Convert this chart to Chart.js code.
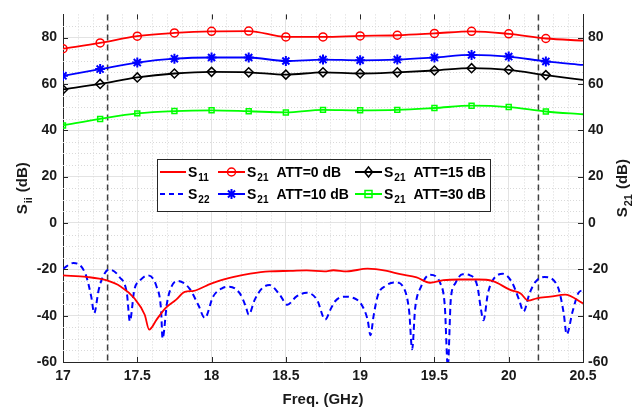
<!DOCTYPE html>
<html>
<head>
<meta charset="utf-8">
<script src="https://cdn.jsdelivr.net/npm/chart.js"></script>
<style>
  body { margin: 0; background: #fff; }
  #wrap { width: 644px; height: 409px; }
</style>
</head>
<body>
<div id="wrap"><canvas id="chartS" width="644" height="409"></canvas></div>
<script>
// S21 for different attenuator settings, read at every 0.25 GHz (last point has no marker)
const markerFreq = [17, 17.25, 17.5, 17.75, 18, 18.25, 18.5, 18.75, 19, 19.25, 19.5, 19.75, 20, 20.25, 20.5];
const att0Db  = [75.2, 77.7, 80.6, 82.0, 82.7, 82.8, 80.3, 80.3, 80.7, 81.0, 81.8, 82.7, 81.6, 79.6, 78.7];
const att10Db = [63.5, 66.4, 69.2, 70.9, 71.4, 71.4, 69.9, 70.5, 70.2, 70.5, 71.4, 72.5, 71.8, 69.7, 68.2];
const att15Db = [57.6, 60.0, 62.8, 64.5, 65.2, 65.0, 64.0, 65.0, 64.5, 65.0, 65.8, 66.8, 66.1, 63.8, 61.7];
const att30Db = [42.1, 44.9, 47.3, 48.3, 48.6, 48.2, 47.7, 48.8, 48.6, 48.8, 49.6, 50.6, 50.0, 48.1, 46.9];

// S11
const s11Freq = [17.00, 17.16, 17.29, 17.39, 17.48, 17.55, 17.58, 17.63, 17.69, 17.76, 17.82, 17.88, 17.97, 18.03,
  18.15, 18.26, 18.39, 18.53, 18.64, 18.76, 18.82, 18.91, 19.05, 19.18, 19.27, 19.38, 19.47, 19.56, 19.67, 19.79,
  19.89, 20.01, 20.08, 20.13, 20.19, 20.28, 20.38, 20.50];
const s11Db = [-22.6, -23.3, -24.7, -27.5, -32.5, -39.6, -46.0, -41.7, -36.7, -33.2, -29.7, -29.3, -26.9, -25.4,
  -23.3, -21.9, -20.9, -20.7, -20.5, -20.9, -20.4, -20.9, -19.7, -20.7, -22.1, -23.5, -25.8, -24.7, -24.4, -24.4,
  -25.0, -28.9, -30.4, -33.5, -32.5, -31.8, -30.9, -34.7];

// S22
const s22Freq = [17.00, 17.07, 17.15, 17.19, 17.21, 17.24, 17.27, 17.31, 17.38, 17.43, 17.45, 17.48, 17.52, 17.57,
  17.63, 17.66, 17.67, 17.70, 17.73, 17.77, 17.85, 17.91, 17.955, 18.01, 18.07, 18.12, 18.19, 18.23, 18.25, 18.29,
  18.34, 18.39, 18.46, 18.51, 18.57, 18.64, 18.71, 18.765, 18.80, 18.83, 18.89, 18.96, 19.01, 19.05, 19.07, 19.09,
  19.12, 19.17, 19.24, 19.30, 19.33, 19.35, 19.37, 19.41, 19.47, 19.54, 19.57, 19.59, 19.61, 19.64, 19.69, 19.74,
  19.79, 19.81, 19.83, 19.86, 19.89, 19.96, 20.02, 20.07, 20.10, 20.14, 20.18, 20.24, 20.33, 20.37, 20.39, 20.43,
  20.47, 20.50];
const s22Db = [-19.7, -17.3, -21.8, -31.8, -38.9, -28.9, -23.0, -20.1, -23.3, -30.4, -42.4, -28.9, -24.7, -22.6,
  -27.5, -37.4, -49.9, -34.6, -27.5, -25.0, -28.2, -35.3, -41.0, -31.8, -28.2, -27.5, -30.4, -36.0, -39.6, -33.2,
  -28.2, -26.8, -31.1, -35.3, -31.8, -30.1, -33.2, -41.7, -37.4, -33.9, -31.8, -32.5, -35.3, -41.7, -48.5, -40.3,
  -31.1, -27.2, -25.7, -28.9, -38.2, -54.5, -37.0, -27.5, -22.3, -26.1, -36.0, -62.0, -33.2, -26.1, -22.1, -22.6,
  -27.5, -36.0, -42.0, -30.4, -25.0, -21.9, -25.4, -33.2, -38.2, -30.4, -25.4, -23.3, -27.5, -38.9, -48.1, -38.2,
  -30.1, -29.0];

// band edges (dashed verticals)
const bandEdges = [17.3, 20.2];

const xTicks = [17, 17.5, 18, 18.5, 19, 19.5, 20, 20.5];
const yTicks = [-60, -40, -20, 0, 20, 40, 60, 80];

const fontFamily = '"Liberation Sans", Arial, Helvetica, sans-serif';
const textColor = '#1a1a1a';

const toXY = (xs, ys) => xs.map((x, i) => ({ x: x, y: ys[i] }));
const markerSizes = (r) => markerFreq.map((f, i) => i < markerFreq.length - 1 ? r : 0);

// S + subscript + rest, returns width
function drawSub(ctx, x, y, sub, rest, size, gap, measureOnly) {
  ctx.font = `bold ${size}px ${fontFamily}`;
  let w = ctx.measureText('S').width;
  if (!measureOnly) ctx.fillText('S', x, y);
  const subSize = Math.round(size * 0.72);
  ctx.font = `bold ${subSize}px ${fontFamily}`;
  if (!measureOnly) ctx.fillText(sub, x + w + 1, y + size * 0.32);
  w += 1 + ctx.measureText(sub).width;
  if (rest) {
    ctx.font = `bold ${size}px ${fontFamily}`;
    if (!measureOnly) ctx.fillText(rest, x + w + gap, y);
    w += gap + ctx.measureText(rest).width;
  }
  return w;
}

function drawMarker(ctx, type, x, y, color) {
  ctx.save();
  ctx.strokeStyle = color;
  ctx.fillStyle = color;
  ctx.lineWidth = 1.5;
  ctx.setLineDash([]);
  ctx.beginPath();
  if (type === 'circle') {
    ctx.arc(x, y, 4, 0, Math.PI * 2);
    ctx.stroke();
  } else if (type === 'diamond') {
    ctx.moveTo(x, y - 5); ctx.lineTo(x + 4, y); ctx.lineTo(x, y + 5); ctx.lineTo(x - 4, y); ctx.closePath();
    ctx.stroke();
  } else if (type === 'square') {
    ctx.rect(x - 3.5, y - 3.5, 7, 7);
    ctx.stroke();
  } else if (type === 'star') {
    ctx.lineWidth = 2;
    for (let k = 0; k < 4; k++) {
      const a = k * Math.PI / 4;
      ctx.moveTo(x - 5 * Math.cos(a), y - 5 * Math.sin(a));
      ctx.lineTo(x + 5 * Math.cos(a), y + 5 * Math.sin(a));
    }
    ctx.stroke();
  }
  ctx.restore();
}

const legendItems = [
  { col: 0, row: 0, color: '#ff0000', dash: [], marker: null, sub: '11', rest: '' },
  { col: 1, row: 0, color: '#ff0000', dash: [], marker: 'circle', sub: '21', rest: 'ATT=0 dB' },
  { col: 2, row: 0, color: '#000000', dash: [], marker: 'diamond', sub: '21', rest: 'ATT=15 dB' },
  { col: 0, row: 1, color: '#0000ff', dash: [5, 4], marker: null, sub: '22', rest: '' },
  { col: 1, row: 1, color: '#0000ff', dash: [], marker: 'star', sub: '21', rest: 'ATT=10 dB' },
  { col: 2, row: 1, color: '#00ff00', dash: [], marker: 'square', sub: '21', rest: 'ATT=30 dB' }
];
const legendCols = [[160, 186, 188], [218, 245, 247], [355, 382, 384]];
const legendRows = [172, 194];

const decorPlugin = {
  id: 'decor',
  beforeDatasetsDraw(chart) {
    const ctx = chart.ctx;
    const a = chart.chartArea;
    const xs = chart.scales.x, ys = chart.scales.y;
    ctx.save();
    // minor grid
    ctx.strokeStyle = '#d9d9d9';
    ctx.lineWidth = 1;
    ctx.setLineDash([1, 2]);
    for (let k = 171; k < 205; k++) {
      if (k % 5 === 0) continue;
      const px = Math.round(xs.getPixelForValue(k / 10)) + 0.5;
      ctx.beginPath(); ctx.moveTo(px, a.top); ctx.lineTo(px, a.bottom); ctx.stroke();
    }
    for (let v = -55; v < 90; v += 5) {
      if (v % 20 === 0) continue;
      const py = Math.round(ys.getPixelForValue(v)) + 0.5;
      ctx.beginPath(); ctx.moveTo(a.left, py); ctx.lineTo(a.right, py); ctx.stroke();
    }
    // band edge lines
    ctx.strokeStyle = '#404040';
    ctx.lineWidth = 1.5;
    ctx.setLineDash([6, 4]);
    bandEdges.forEach(f => {
      const px = xs.getPixelForValue(f);
      ctx.beginPath(); ctx.moveTo(px, a.top); ctx.lineTo(px, a.bottom); ctx.stroke();
    });
    ctx.restore();
  },
  afterDatasetsDraw(chart) {
    const ctx = chart.ctx;
    ctx.save();
    // legend box
    ctx.fillStyle = '#ffffff';
    ctx.fillRect(157, 159, 333, 52);
    ctx.strokeStyle = '#262626';
    ctx.lineWidth = 1;
    ctx.setLineDash([]);
    ctx.strokeRect(157.5, 159.5, 333, 52);
    ctx.textBaseline = 'alphabetic';
    ctx.textAlign = 'left';
    legendItems.forEach(it => {
      const c = legendCols[it.col];
      const y = legendRows[it.row];
      ctx.strokeStyle = it.color;
      ctx.lineWidth = 2;
      ctx.setLineDash(it.dash);
      ctx.beginPath(); ctx.moveTo(c[0], y); ctx.lineTo(c[1], y); ctx.stroke();
      ctx.setLineDash([]);
      if (it.marker) drawMarker(ctx, it.marker, (c[0] + c[1]) / 2, y, it.color);
      ctx.fillStyle = '#000000';
      drawSub(ctx, c[2], y + 5, it.sub, it.rest, 14, 8, false);
    });
    ctx.restore();
  },
  afterDraw(chart) {
    const ctx = chart.ctx;
    const a = chart.chartArea;
    const xs = chart.scales.x, ys = chart.scales.y;
    ctx.save();
    // inward tick marks
    ctx.strokeStyle = '#262626';
    ctx.lineWidth = 1;
    xTicks.forEach(v => {
      const px = Math.round(xs.getPixelForValue(v)) + 0.5;
      ctx.beginPath();
      ctx.moveTo(px, a.bottom); ctx.lineTo(px, a.bottom - 5);
      ctx.moveTo(px, a.top); ctx.lineTo(px, a.top + 5);
      ctx.stroke();
    });
    yTicks.forEach(v => {
      const py = Math.round(ys.getPixelForValue(v)) + 0.5;
      ctx.beginPath();
      ctx.moveTo(a.left, py); ctx.lineTo(a.left + 5, py);
      ctx.moveTo(a.right, py); ctx.lineTo(a.right - 5, py);
      ctx.stroke();
    });
    // axis titles
    ctx.fillStyle = textColor;
    ctx.textBaseline = 'alphabetic';
    ctx.textAlign = 'left';
    ctx.font = `bold 15px ${fontFamily}`;
    const xt = 'Freq. (GHz)';
    const xw = ctx.measureText(xt).width;
    ctx.fillText(xt, (a.left + a.right) / 2 - xw / 2, 404);

    const midY = (a.top + a.bottom) / 2;
    [[27, 'ii'], [627, '21']].forEach(t => {
      ctx.save();
      ctx.translate(t[0], midY);
      ctx.rotate(-Math.PI / 2);
      const w = drawSub(ctx, 0, 0, t[1], '(dB)', 15, 5, true);
      drawSub(ctx, -w / 2, 0, t[1], '(dB)', 15, 5, false);
      ctx.restore();
    });
    ctx.restore();
  }
};

Chart.defaults.font.family = fontFamily;
Chart.defaults.color = textColor;

const lineBase = { borderWidth: 1.8, cubicInterpolationMode: 'monotone', fill: false };

const chartS = new Chart(document.getElementById('chartS'), {
  type: 'line',
  data: {
    datasets: [
      Object.assign({}, lineBase, {
        label: 'S11', data: toXY(s11Freq, s11Db), borderColor: '#ff0000', pointRadius: 0, yAxisID: 'y'
      }),
      Object.assign({}, lineBase, {
        label: 'S22', data: toXY(s22Freq, s22Db), borderColor: '#0000ff', borderWidth: 2,
        borderDash: [6, 4], pointRadius: 0, yAxisID: 'y'
      }),
      Object.assign({}, lineBase, {
        label: 'S21 ATT=0 dB', data: toXY(markerFreq, att0Db), borderColor: '#ff0000',
        pointStyle: 'circle', pointRadius: markerSizes(4), pointBorderWidth: 1.5,
        pointBackgroundColor: 'rgba(0,0,0,0)', pointBorderColor: '#ff0000', yAxisID: 'y2'
      }),
      Object.assign({}, lineBase, {
        label: 'S21 ATT=10 dB', data: toXY(markerFreq, att10Db), borderColor: '#0000ff',
        pointStyle: 'star', pointRadius: markerSizes(5), pointBorderWidth: 2,
        pointBackgroundColor: '#0000ff', pointBorderColor: '#0000ff', yAxisID: 'y2'
      }),
      Object.assign({}, lineBase, {
        label: 'S21 ATT=15 dB', data: toXY(markerFreq, att15Db), borderColor: '#000000',
        pointStyle: 'rectRot', pointRadius: markerSizes(4.5), pointBorderWidth: 1.5,
        pointBackgroundColor: 'rgba(0,0,0,0)', pointBorderColor: '#000000', yAxisID: 'y2'
      }),
      Object.assign({}, lineBase, {
        label: 'S21 ATT=30 dB', data: toXY(markerFreq, att30Db), borderColor: '#00ff00',
        pointStyle: 'rect', pointRadius: markerSizes(3.5), pointBorderWidth: 1.5,
        pointBackgroundColor: 'rgba(0,0,0,0)', pointBorderColor: '#00ff00', yAxisID: 'y2'
      })
    ]
  },
  options: {
    responsive: false,
    animation: false,
    events: [],
    layout: { padding: { top: 9, left: 0, right: 0, bottom: 0 } },
    plugins: {
      legend: { display: false },
      tooltip: { enabled: false }
    },
    scales: {
      x: {
        type: 'linear', min: 17, max: 20.5,
        afterBuildTicks: s => { s.ticks = xTicks.map(v => ({ value: v })); },
        ticks: {
          font: { size: 14, weight: 'bold' }, color: textColor, padding: 6, maxRotation: 0, autoSkip: false,
          callback: v => String(v)
        },
        grid: { color: '#e3e3e3', drawTicks: false },
        border: { color: '#262626' },
        afterFit: s => { s.height = 47; }
      },
      y: {
        type: 'linear', position: 'left', min: -60, max: 90,
        afterBuildTicks: s => { s.ticks = yTicks.map(v => ({ value: v })); },
        ticks: { font: { size: 14, weight: 'bold' }, color: textColor, padding: 6, callback: v => String(v) },
        grid: { color: '#e3e3e3', drawTicks: false },
        border: { color: '#262626' },
        afterFit: s => { s.width = 63; }
      },
      y2: {
        type: 'linear', position: 'right', min: -60, max: 90,
        afterBuildTicks: s => { s.ticks = yTicks.map(v => ({ value: v })); },
        ticks: { font: { size: 14, weight: 'bold' }, color: textColor, padding: 5, callback: v => String(v) },
        grid: { drawOnChartArea: false, drawTicks: false },
        border: { color: '#262626' },
        afterFit: s => { s.width = 61; }
      }
    }
  },
  plugins: [decorPlugin]
});
</script>
</body>
</html>
